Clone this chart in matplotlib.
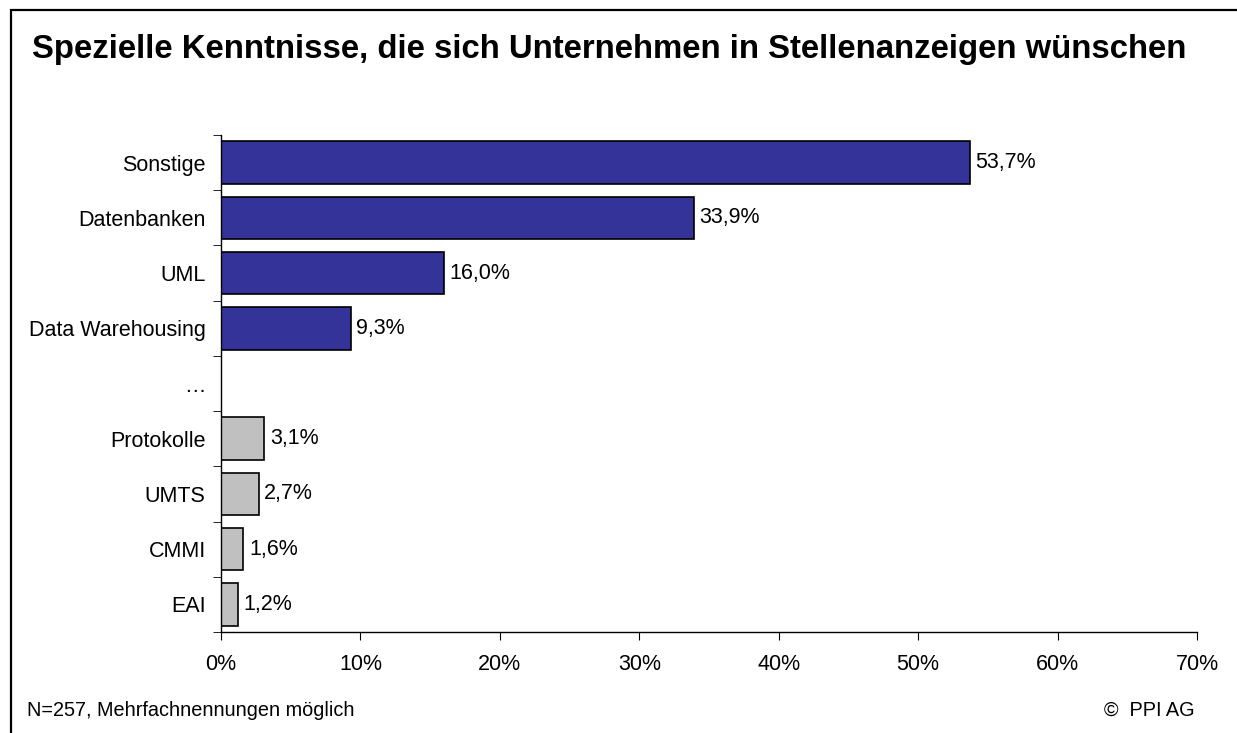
import numpy as np
import matplotlib.pyplot as plt
from matplotlib.patches import Rectangle

categories = ['Sonstige', 'Datenbanken', 'UML', 'Data Warehousing', '…',
              'Protokolle', 'UMTS', 'CMMI', 'EAI']
values = [53.7, 33.9, 16.0, 9.3, np.nan, 3.1, 2.7, 1.6, 1.2]
labels = ['53,7%', '33,9%', '16,0%', '9,3%', '', '3,1%', '2,7%', '1,6%', '1,2%']
colors = ['#333399'] * 4 + ['white'] + ['#C0C0C0'] * 4
xticks = [0, 10, 20, 30, 40, 50, 60, 70]

plt.rcParams['font.family'] = ['Liberation Sans', 'DejaVu Sans']

fig = plt.figure(figsize=(12.37, 7.33), dpi=100)
ax = fig.add_axes([221/1237, 1-632/733, (1197-221)/1237, (632-135)/733])

y = np.arange(len(categories))
vals = np.nan_to_num(values)
ax.barh(y, vals, height=0.77, color=colors, edgecolor='black', linewidth=1.2)
for yi, v, t in zip(y, vals, labels):
    if t:
        ax.text(v + 0.4, yi, t, va='center', ha='left', fontsize=15.5)

ax.set_ylim(len(categories) - 0.5, -0.5)
ax.set_xlim(0, 70)
ax.set_yticks(y)
ax.set_yticklabels(categories, fontsize=15.5)
ax.tick_params(axis='y', length=0, pad=11)
ax.set_yticks(np.arange(-0.5, len(categories)), minor=True)
ax.tick_params(axis='y', which='minor', length=6, direction='out')
ax.set_xticks(xticks)
ax.set_xticklabels([f'{t}%' for t in xticks], fontsize=15.5)
ax.tick_params(axis='x', length=6, direction='out', pad=10)
for s in ['top', 'right']:
    ax.spines[s].set_visible(False)
for s in ['left', 'bottom']:
    ax.spines[s].set_linewidth(1.0)

fig.text(32/1237, 1-58/733, 'Spezielle Kenntnisse, die sich Unternehmen in Stellenanzeigen wünschen',
         fontsize=23.7, fontweight='bold', va='baseline', ha='left')
fig.text(27/1237, 1-716/733, 'N=257, Mehrfachnennungen möglich', fontsize=14.3, va='baseline', ha='left')
fig.text(1195/1237, 1-716/733, '©  PPI AG', fontsize=14.3, va='baseline', ha='right')

fig.patches.append(Rectangle((11/1237, -0.1), 1.2, 1-10/733 + 0.1, transform=fig.transFigure,
                             fill=False, edgecolor='black', linewidth=1.6))

fig.savefig('out.png', dpi=100)
